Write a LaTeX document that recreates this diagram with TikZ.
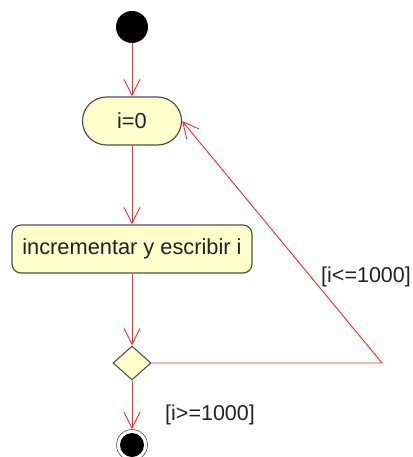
\documentclass[tikz,border=0pt]{standalone}
\usepackage{fontspec}
\setmainfont{Liberation Sans}
\usetikzlibrary{arrows.meta,shapes.geometric}

\definecolor{umlfill}{RGB}{255,255,204}
\definecolor{umlline}{RGB}{80,80,80}
\definecolor{umltext}{RGB}{35,35,35}
\definecolor{umlflow}{RGB}{255,40,40}

\tikzset{
  actbox/.style={draw=umlline,fill=umlfill,line width=1.2pt,text=umltext,
    minimum height=48pt,inner sep=0pt,font=\fontsize{21.8}{25}\selectfont},
  decbox/.style={diamond,draw=umlline,fill=umlfill,line width=1.1pt,
    minimum width=38pt,minimum height=34pt,inner sep=0pt},
  guard/.style={text=umltext,inner sep=0pt,font=\fontsize{21.5}{25}\selectfont},
  flow/.style={draw=umlflow,line width=0.9pt},
  flowarr/.style={flow,-{Straight Barb[length=16pt,width=16pt,line width=0.9pt]}}
}

\begin{document}
\begin{tikzpicture}[x=1pt,y=-1pt]
\useasboundingbox (0,0) rectangle (412,457);

\node[circle,fill=black,minimum size=32pt,inner sep=0pt] (Init) at (132,27) {};
\node[actbox,minimum width=99pt,rounded corners=24pt] (Start) at (132,121) {i=0};
\node[actbox,minimum width=240pt,rounded corners=9pt] (Step) at (132,249) {incrementar y escribir i};
\node[decbox] (Dec) at (132,363) {};
\node[circle,draw=umlline,fill=white,line width=0.6pt,minimum size=31pt,inner sep=0pt] (Final) at (132,445) {};
\node[circle,fill=black,minimum size=24pt,inner sep=0pt] at (Final) {};

\coordinate (Corner) at (382,363);

\draw[flowarr] (Init) -- (Start);
\draw[flowarr] (Start) -- (Step);
\draw[flowarr] (Step) -- (Dec);
\draw[flowarr] (Dec) -- (Final);
\draw[flowarr] (Dec.east) -- (Corner) -- (Start.east);

\node[guard,anchor=west] (Loop) at (321,277) {[i<=1000]};
\node[guard,anchor=west] (Exit) at (165,415) {[i>=1000]};
\end{tikzpicture}
\end{document}
